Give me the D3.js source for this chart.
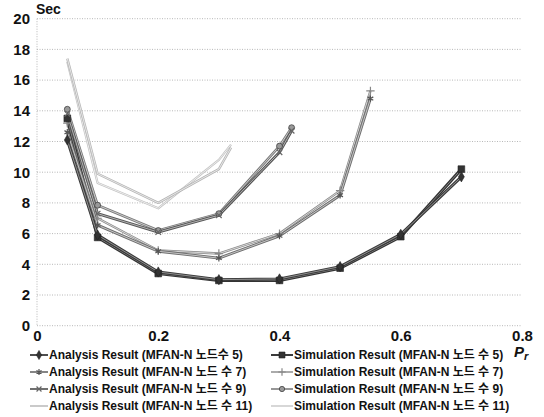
<!DOCTYPE html>
<html><head><meta charset="utf-8">
<script src="https://cdn.jsdelivr.net/npm/d3@7"></script>
<style>
body{margin:0;background:#fff;}
text{font-family:"Liberation Sans","Noto Sans CJK KR",sans-serif;font-weight:bold;fill:#111;}
</style></head>
<body><svg id="c" width="544" height="417"></svg>
<script>
// ---- data ----
const prN5  = [0.05, 0.1, 0.2, 0.3, 0.4, 0.5, 0.6, 0.7];
const prN7  = [0.05, 0.1, 0.2, 0.3, 0.4, 0.5, 0.55];
const prN9  = [0.05, 0.1, 0.2, 0.3, 0.4, 0.42];
const prN11 = [0.05, 0.1, 0.2, 0.3, 0.32];

const analysisN5    = [12.1, 5.9, 3.5, 3.0, 3.05, 3.85, 5.95, 9.7];
const simulationN5  = [13.5, 5.75, 3.4, 2.95, 2.95, 3.75, 5.8, 10.2];
const analysisN7    = [12.6, 6.55, 4.85, 4.4, 5.85, 8.5, 14.8];
const simulationN7  = [13.2, 7.0, 4.9, 4.7, 6.0, 8.8, 15.3];
const analysisN9    = [13.8, 7.3, 6.1, 7.2, 11.3, 12.7];
const simulationN9  = [14.1, 7.85, 6.2, 7.3, 11.7, 12.9];
const analysisN11   = [17.4, 9.9, 8.0, 10.2, 11.6];
const simulationN11 = [17.2, 9.3, 7.65, 10.8, 11.8];

const seriesLabels = [
  "Analysis Result (MFAN-N 노드수 5)",
  "Analysis Result (MFAN-N 노드 수 7)",
  "Analysis Result (MFAN-N 노드 수 9)",
  "Analysis Result (MFAN-N 노드 수 11)",
  "Simulation Result (MFAN-N 노드 수 5)",
  "Simulation Result (MFAN-N 노드 수 7)",
  "Simulation Result (MFAN-N 노드 수 9)",
  "Simulation Result (MFAN-N 노드 수 11)"
];
const yTicks = [0, 2, 4, 6, 8, 10, 12, 14, 16, 18, 20];
const xTicks = [0, 0.2, 0.4, 0.6, 0.8];

// ---- styles ----
const symAst = d3.symbolAsterisk || d3.symbolStar;
const symPlus = d3.symbolPlus || d3.symbolCross;
const styles = [
  {c:"#3a3a3a", inner:"#9a9a9a", w:3.0, sym:d3.symbolDiamond, size:30, fill:"#333", stroke:false},
  {c:"#6e6e6e", inner:"#cfcfcf", w:2.8, sym:symAst, size:30, fill:"none", stroke:true, sc:"#555"},
  {c:"#555", inner:"#bdbdbd", w:2.8, sym:d3.symbolTimes || d3.symbolCross, size:22, fill:"none", stroke:true, sc:"#666"},
  {c:"#b5b5b5", inner:"#ececec", w:2.4, sym:null},
  {c:"#333", inner:"#8a8a8a", w:3.2, sym:d3.symbolSquare, size:45, fill:"#333", stroke:false},
  {c:"#8a8a8a", inner:"#dedede", w:2.4, sym:symPlus, size:25, fill:"none", stroke:true, sc:"#888"},
  {c:"#7a7a7a", inner:"#d4d4d4", w:2.6, sym:d3.symbolCircle, size:28, fill:"#999", stroke:false},
  {c:"#c2c2c2", inner:"#f0f0f0", w:2.2, sym:null}
];

const prs = [prN5, prN7, prN9, prN11, prN5, prN7, prN9, prN11];
const vals = [analysisN5, analysisN7, analysisN9, analysisN11,
              simulationN5, simulationN7, simulationN9, simulationN11];
const series = vals.map((v, i) => ({label: seriesLabels[i], st: styles[i],
  pts: v.map((y, j) => ({x: prs[i][j], y}))}));

// ---- layout ----
const svg = d3.select("#c");
const L = 37, R = 522, T = 18.7, B = 325.7;
const x = d3.scaleLinear().domain([0, 0.8]).range([L, R]);
const y = d3.scaleLinear().domain([0, 20]).range([B, T]);

// gridlines
svg.append("g").selectAll("line").data(yTicks).join("line")
  .attr("x1", L).attr("x2", R).attr("y1", d => y(d)).attr("y2", d => y(d))
  .attr("stroke", "#b0b0b0").attr("stroke-width", 0.9).attr("stroke-dasharray", "1,1.5");
svg.append("line").attr("x1", L).attr("x2", L).attr("y1", T).attr("y2", B)
  .attr("stroke", "#b0b0b0").attr("stroke-width", 0.9).attr("stroke-dasharray", "1,1.5");

// axes labels (via d3 axes, hiding domain/ticks)
const yAxis = svg.append("g").attr("transform", `translate(${L - 7},0)`)
  .call(d3.axisLeft(y).tickValues(yTicks).tickSize(0).tickPadding(0));
yAxis.select(".domain").remove();
yAxis.selectAll("text").style("font-size", "15px").style("font-family", "Liberation Sans").style("font-weight", "bold").attr("fill", "#111");

const xAxis = svg.append("g").attr("transform", `translate(0,${B + 5})`)
  .call(d3.axisBottom(x).tickValues(xTicks).tickSize(0).tickPadding(0).tickFormat(d => d === 0 ? "0" : d3.format(".1f")(d)));
xAxis.select(".domain").remove();
xAxis.selectAll("text").style("font-size", "15px").style("font-family", "Liberation Sans").style("font-weight", "bold").attr("fill", "#111");

svg.append("text").attr("x", 36).attr("y", 14).style("font-size", "14px").text("Sec");
const pr = svg.append("text").attr("x", 514).attr("y", 357).style("font-size", "15px").style("font-style", "italic");
pr.append("tspan").text("P");
pr.append("tspan").attr("dy", 3).style("font-size", "11px").text("r");

// lines
const line = d3.line().x(d => x(d.x)).y(d => y(d.y));
const gl = svg.append("g");
series.slice().reverse().forEach(s => {
  gl.append("path").attr("d", line(s.pts)).attr("fill", "none")
    .attr("stroke", s.st.c).attr("stroke-width", s.st.w).attr("stroke-linejoin", "round");
  gl.append("path").attr("d", line(s.pts)).attr("fill", "none")
    .attr("stroke", s.st.inner).attr("stroke-width", 0.9).attr("stroke-linejoin", "round");
});
function drawSym(g, st, cx, cy, scale) {
  if (!st.sym) return;
  g.append("path").attr("d", d3.symbol().type(st.sym).size(st.size * scale)())
    .attr("transform", `translate(${cx},${cy})`)
    .attr("fill", st.fill).attr("stroke", st.stroke ? st.sc : "#222")
    .attr("stroke-width", st.stroke ? 1.2 : 0.6);
}
series.slice().reverse().forEach(s => {
  s.pts.forEach(p => drawSym(gl, s.st, x(p.x), y(p.y), 1));
});

// legend
const rowY = [359, 376, 393, 410];
const cols = [{x0: 30, x1: 48, tx: 49}, {x0: 271, x1: 293, tx: 294}];
series.forEach((s, i) => {
  const col = cols[Math.floor(i / 4)], ry = rowY[i % 4];
  const g = svg.append("g");
  g.append("line").attr("x1", col.x0).attr("x2", col.x1).attr("y1", ry - 4).attr("y2", ry - 4)
    .attr("stroke", s.st.c).attr("stroke-width", s.st.w * 0.6);
  drawSym(g, s.st, (col.x0 + col.x1) / 2, ry - 4, 0.8);
  g.append("text").attr("x", col.tx).attr("y", ry).style("font-size", "12px")
    .attr("dominant-baseline", "middle").attr("dy", "-0.25em").text(s.label);
});
</script></body></html>
